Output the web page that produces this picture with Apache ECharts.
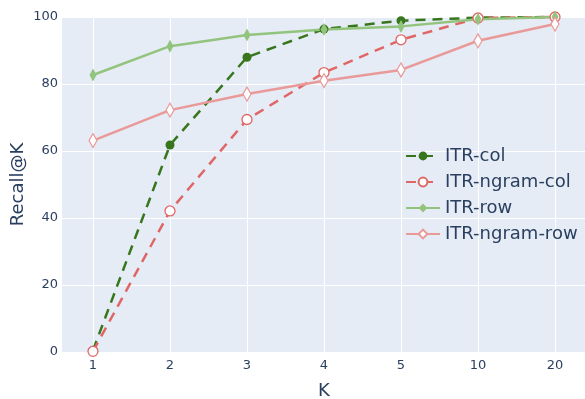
<!DOCTYPE html>
<html>
<head>
<meta charset="utf-8">
<script src="https://cdn.jsdelivr.net/npm/echarts@6/dist/echarts.min.js"></script>
<style>
  html, body { margin: 0; padding: 0; background: #fff; }
  #chart { width: 585px; height: 399px; }
</style>
</head>
<body>
<div id="chart"></div>
<script>
const kLabels = ['1', '2', '3', '4', '5', '10', '20']
const itrCol = [0.5, 61.8, 88.0, 96.4, 98.9, 99.8, 100]
const itrNgramCol = [0.2, 42.1, 69.4, 83.4, 93.2, 99.7, 100]
const itrRow = [82.7, 91.3, 94.6, 96.3, 97.2, 99.3, 100]
const itrNgramRow = [63.1, 72.2, 77.0, 81.0, 84.2, 92.9, 97.9]

const textColor = '#2a3f5f'
const font = 'DejaVu Sans'

const chart = echarts.init(document.getElementById('chart'), null, { renderer: 'canvas' })

const makeSeries = (name, data, color, dashed, symbol, symbolSize, filled) => ({
  name,
  type: 'line',
  xAxisIndex: 1,
  yAxisIndex: 1,
  data,
  symbol,
  symbolSize,
  showSymbol: true,
  clip: false,
  lineStyle: { color, width: 2.5, type: dashed ? [10, 7] : 'solid' },
  itemStyle: { color: filled ? color : '#ffffff', borderColor: color, borderWidth: filled ? 0 : 1.3 },
  emphasis: { disabled: true },
  animation: false
})

const option = {
  backgroundColor: '#ffffff',
  textStyle: { fontFamily: font },
  grid: [
    // plot background + horizontal grid lines
    { left: 62, right: 0, top: 17, bottom: 47, show: true, backgroundColor: '#E5ECF6', borderWidth: 0, outerBoundsMode: 'none' },
    // data area (categories sit inside the padded range)
    { left: 93, right: 30, top: 17, bottom: 47, outerBoundsMode: 'none' }
  ],
  xAxis: [
    { gridIndex: 0, type: 'value', min: 0, max: 1, show: false },
    {
      gridIndex: 1,
      type: 'category',
      data: kLabels,
      boundaryGap: false,
      axisLine: { show: false },
      axisTick: { show: false },
      axisLabel: { color: textColor, fontSize: 13, margin: 7, fontFamily: font },
      splitLine: { show: true, lineStyle: { color: '#ffffff', width: 1 } },
      name: 'K',
      nameLocation: 'middle',
      nameGap: 30,
      nameMoveOverlap: false,
      nameTextStyle: { color: textColor, fontSize: 18, fontFamily: font }
    }
  ],
  yAxis: [
    {
      gridIndex: 0,
      type: 'value',
      min: 0,
      max: 100,
      interval: 20,
      axisLine: { show: false },
      axisTick: { show: false },
      axisLabel: { color: textColor, fontSize: 13, margin: 4, fontFamily: font },
      splitLine: { show: true, lineStyle: { color: '#ffffff', width: 1 } },
      name: 'Recall@K',
      nameLocation: 'middle',
      nameGap: 35,
      nameRotate: 90,
      nameMoveOverlap: false,
      nameTextStyle: { color: textColor, fontSize: 18, fontFamily: font }
    },
    { gridIndex: 1, type: 'value', min: 0, max: 100, show: false }
  ],
  legend: {
    orient: 'vertical',
    left: 400,
    top: 142,
    itemWidth: 34,
    itemHeight: 11,
    itemGap: 8,
    textStyle: { color: textColor, fontSize: 18, fontFamily: font },
    data: ['ITR-col', 'ITR-ngram-col', 'ITR-row', 'ITR-ngram-row']
  },
  series: [
    makeSeries('ITR-col', itrCol, '#38761D', true, 'circle', 9, true),
    makeSeries('ITR-ngram-col', itrNgramCol, '#E06666', true, 'circle', 10, false),
    makeSeries('ITR-row', itrRow, '#93C47D', false, 'diamond', [7, 13], true),
    makeSeries('ITR-ngram-row', itrNgramRow, '#EA9999', false, 'diamond', [8, 14], false)
  ]
}

chart.setOption(option)
window.addEventListener('resize', () => chart.resize())
</script>
</body>
</html>
